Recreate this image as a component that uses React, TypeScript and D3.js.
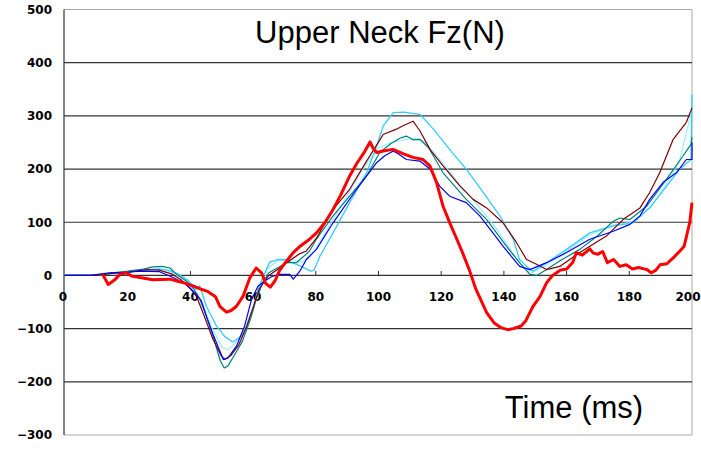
import React from 'react'
import * as d3 from 'd3'

// neck force traces, time (ms) and force (N)
const redT = [12, 13.8, 15.9, 17.5, 19.6, 21.2, 23.9, 28, 33.4, 36, 38.5, 41, 43, 45.5, 48, 49.4, 51.5, 53, 54.7, 56.8, 59, 61, 62.7, 64, 65.5, 67, 68.5, 70, 72.8, 75, 78, 80.2, 83, 85.5, 88, 90.8, 93, 95.5, 97.3, 98.2, 99.4, 101.5, 104.6, 107.8, 111, 114.2, 116.4, 118.5, 120.6, 123, 125, 127, 129, 131, 134.5, 137, 139, 141.2, 143, 145.5, 147, 149.3, 151.5, 153.6, 155.5, 156.8, 158, 160, 162, 163.1, 165, 167.4, 168.5, 170, 171.5, 173, 175, 177, 179, 181, 183, 185.6, 187, 188.5, 189.8, 192, 194.5, 196, 197.5, 199.3, 200]
const redV = [2, -17, -8, 2, 5, -1, -4, -8, -7, -11, -15, -20, -25, -30, -40, -58, -69, -66, -58, -39, -4, 14, 5, -15, -22, -10, 10, 22, 43, 55, 68, 80, 100, 124, 152, 187, 210, 232, 251, 240, 231, 234, 237, 229, 222, 218, 206, 175, 130, 95, 68, 40, 10, -25, -70, -90, -98, -102, -100, -95, -85, -58, -40, -14, 0, 5, 10, 12, 25, 43, 38, 50, 42, 40, 45, 24, 30, 17, 20, 12, 15, 11, 5, 10, 20, 22, 36, 45, 55, 100, 137]

const blueT = [0, 8, 14.3, 20, 23.9, 30.2, 34.5, 38.8, 41.9, 43.5, 45.1, 47.5, 50.5, 52, 54.7, 57.3, 59.5, 61.6, 64.3, 66, 68.5, 71.7, 72.8, 74.9, 77, 80.2, 85.5, 93, 99.4, 102, 104.7, 106.5, 108.9, 113.2, 116.4, 119.5, 122.7, 128, 132.3, 136.5, 139.7, 142.5, 145, 148.3, 153.6, 160, 167.4, 174.9, 180.2, 183.4, 186.5, 190.8, 195, 198.2, 200, 200]
const blueV = [0, 0, 5, 6, 8, 7, -4, -17, -36, -48, -77, -115, -158, -155, -133, -95, -45, -20, -8, -2, 2, 2, -7, 8, 30, 49, 99, 162, 212, 225, 234, 228, 218, 215, 200, 168, 149, 137, 112, 80, 55, 35, 17, 11, 24, 43, 68, 83, 96, 112, 143, 175, 193, 218, 218, 250]

const maroonT = [0, 10, 15, 20, 26, 30, 34, 37, 40, 42, 44, 47.2, 49.9, 51, 53, 55.5, 58, 60, 62, 65, 68, 70.7, 74.6, 77, 80.2, 85.5, 90.8, 96.2, 99.4, 101.5, 105.7, 108, 111, 113.2, 116.4, 120.6, 126, 130.2, 134.5, 139.7, 144, 147.2, 150.4, 153.6, 157.8, 164.2, 172.7, 178, 183.4, 186.5, 189.7, 194, 198.2, 200]
const maroonV = [0, 0, 4, 6, 11, 10, 3, -8, -25, -40, -70, -120, -152, -158, -150, -130, -95, -60, -25, 0, 12, 24, 40, 46, 70, 124, 162, 215, 245, 265, 275, 282, 290, 272, 237, 206, 168, 143, 127, 99, 62, 30, 21, 11, 17, 43, 74, 105, 127, 156, 193, 256, 288, 315]

const tealT = [0, 10, 15, 20, 25, 28, 31, 33.5, 35.6, 38.8, 41, 43, 45, 47.5, 49.5, 50.8, 52, 54, 56.5, 59, 61, 63, 65, 68, 70.7, 73.8, 76, 78, 80.2, 85.5, 90.8, 96.2, 100.4, 104, 106.8, 108.9, 111, 113.2, 116, 120.6, 128, 134.5, 140.8, 145, 148.3, 150.5, 153.6, 158, 164.2, 170, 174.9, 177, 180.2, 185.5, 191.9, 197.2, 199.7, 200]
const tealV = [0, 0, 5, 8, 12, 16, 17, 14, 2, -11, -25, -45, -75, -120, -160, -174, -170, -150, -125, -85, -45, -15, 5, 15, 24, 24, 35, 46, 68, 112, 149, 187, 231, 248, 258, 262, 255, 256, 240, 193, 143, 105, 55, 24, 2, 0, 11, 28, 49, 75, 102, 108, 105, 130, 181, 225, 247, 260]

const cyanT = [0, 8, 15, 20, 25, 30, 33, 36, 39, 41.9, 43, 45.1, 48.3, 51, 53.5, 56.3, 58, 60, 61.6, 63, 65.3, 68, 70, 72, 75, 78.4, 79.5, 81.3, 85.5, 90.8, 96.2, 99.4, 101.5, 104.7, 108, 113.2, 117.5, 122.7, 128, 133.4, 138.7, 143, 145, 147.2, 149.3, 153.6, 160, 167.4, 174.9, 181.2, 186.5, 191.9, 196.1, 199.7, 200]
const cyanV = [0, 0, 4, 6, 10, 12, 10, 3, -8, -26, -20, -58, -95, -115, -125, -114, -95, -64, -26, -5, 25, 30, 30, 25, 18, 8, 10, 36, 80, 137, 193, 243, 281, 306, 307, 303, 275, 237, 200, 156, 112, 68, 30, 17, 8, 24, 49, 80, 93, 99, 127, 168, 200, 218, 340]

const paleT = [0, 10, 15, 20, 25, 30, 34, 38, 41, 44, 47, 50, 52, 54, 57, 60, 62, 65, 68, 72, 76, 80, 85, 90, 95, 100, 104, 108, 112, 115, 120, 126, 132, 138, 143, 146, 149, 153, 160, 167, 175, 181, 187, 192, 196, 199.5, 200]
const paleV = [0, 0, 4, 7, 11, 13, 6, -8, -22, -55, -100, -135, -140, -130, -105, -60, -25, 15, 28, 30, 25, 50, 100, 150, 200, 240, 250, 255, 258, 250, 215, 170, 130, 85, 40, 15, 5, 18, 45, 75, 95, 100, 130, 172, 215, 300, 310]

const xTicks = [0, 20, 40, 60, 80, 100, 120, 140, 160, 180, 200]
const yTicks = [500, 400, 300, 200, 100, 0, -100, -200, -300]

const series = [
  { t: paleT, v: paleV, color: '#99eeff', w: 1.2 },
  { t: cyanT, v: cyanV, color: '#33ccff', w: 1.3 },
  { t: tealT, v: tealV, color: '#008080', w: 1.2 },
  { t: maroonT, v: maroonV, color: '#800000', w: 1.2 },
  { t: blueT, v: blueV, color: '#0000ff', w: 1.2 },
  { t: redT, v: redV, color: '#ff0000', w: 3 },
]

export default function App() {
  const x = d3.scaleLinear().domain([0, 200]).range([65, 692])
  const y = d3.scaleLinear().domain([-300, 500]).range([435, 9.5])
  const line = d3.line<[number, number]>().x(d => x(d[0])).y(d => y(d[1]))

  return (
    <svg width={701} height={449} style={{ position: 'absolute', left: 0, top: 0, background: '#fff' }}>
      {/* frame */}
      <line x1={64} x2={692} y1={y(500)} y2={y(500)} stroke="#aaa" />
      <line x1={64} x2={692} y1={y(-300)} y2={y(-300)} stroke="#aaa" />
      <line x1={692} x2={692} y1={y(500)} y2={y(-300)} stroke="#aaa" />
      {yTicks.filter(t => t !== 500 && t !== -300 && t !== 0).map(t => (
        <line key={t} x1={64} x2={692} y1={y(t)} y2={y(t)} stroke="#333" strokeWidth={1.2} />
      ))}
      <line x1={64} x2={692} y1={y(0)} y2={y(0)} stroke="#333" strokeWidth={1.2} />
      {xTicks.filter(t => t > 0 && t < 200).map(t => (
        <line key={t} x1={x(t)} x2={x(t)} y1={y(0) - 4.5} y2={y(0)} stroke="#333" />
      ))}
      <line x1={64} x2={64} y1={y(500)} y2={y(-300)} stroke="#333" strokeWidth={1.2} />

      {yTicks.map(t => (
        <text key={t} x={52} y={y(t)} dy="0.36em" textAnchor="end"
          style={{ fontFamily: 'DejaVu Sans', fontWeight: 'bold', fontSize: 12 }}>
          {t < 0 ? '\u2212' + Math.abs(t) : t}
        </text>
      ))}
      {xTicks.map(t => (
        <text key={t} x={t === 0 ? x(t) - 2 : t === 200 ? x(t) - 4 : x(t)} y={301} textAnchor="middle"
          style={{ fontFamily: 'DejaVu Sans', fontWeight: 'bold', fontSize: 12 }}>
          {t}
        </text>
      ))}

      {series.map((s, i) => (
        <path key={i} d={line(s.t.map((t, j) => [t, s.v[j]] as [number, number])) || ''}
          fill="none" stroke={s.color} strokeWidth={s.w} strokeLinejoin="round" />
      ))}

      <text x={380} y={43} textAnchor="middle" style={{ fontFamily: 'Liberation Sans', fontSize: 31 }}>
        Upper Neck Fz(N)
      </text>
      <text x={574} y={418} textAnchor="middle" style={{ fontFamily: 'Liberation Sans', fontSize: 31 }}>
        Time (ms)
      </text>
    </svg>
  )
}
